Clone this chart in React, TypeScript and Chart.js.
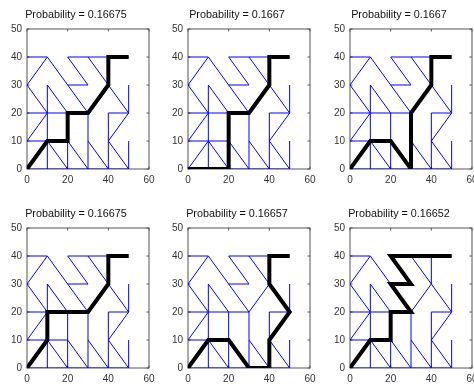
import React, { useEffect, useRef } from "react";
import { Chart, registerables } from "chart.js";

Chart.register(...registerables);

// ---- data ----
const xTicks = [0, 20, 40, 60];
const yTicks = [0, 10, 20, 30, 40, 50];

const titles = [
  "Probability = 0.16675",
  "Probability = 0.1667",
  "Probability = 0.1667",
  "Probability = 0.16675",
  "Probability = 0.16657",
  "Probability = 0.16652",
];

// graph edges: [x1, y1, x2, y2]
const horizontalEdges = [
  [0, 0, 10, 0], [10, 0, 20, 0], [20, 0, 30, 0], [30, 0, 40, 0], [40, 0, 50, 0],
  [0, 10, 10, 10], [10, 10, 20, 10],
  [0, 20, 10, 20], [10, 20, 20, 20], [20, 20, 30, 20], [40, 20, 50, 20],
  [20, 30, 30, 30],
  [0, 40, 10, 40], [20, 40, 30, 40], [30, 40, 40, 40], [40, 40, 50, 40],
];
const verticalEdges = [
  [10, 0, 10, 10], [10, 10, 10, 20], [10, 20, 10, 30],
  [20, 0, 20, 10], [20, 10, 20, 20],
  [30, 0, 30, 10], [30, 10, 30, 20],
  [40, 0, 40, 10], [40, 10, 40, 20], [40, 30, 40, 40],
  [50, 0, 50, 10], [50, 20, 50, 30],
];
const diagonalEdges = [
  [0, 0, 10, 10], [10, 10, 20, 0], [20, 10, 30, 0], [30, 10, 40, 0], [40, 10, 50, 0],
  [0, 10, 10, 20], [0, 30, 10, 20], [0, 30, 10, 40],
  [10, 40, 20, 30], [20, 30, 30, 20], [10, 30, 20, 20],
  [20, 40, 30, 30], [30, 40, 40, 30], [40, 30, 50, 20],
  [30, 20, 40, 30], [40, 10, 50, 20],
];

// highlighted paths (node sequences)
const path1 = [[0, 0], [10, 10], [20, 10], [20, 20], [30, 20], [40, 30], [40, 40], [50, 40]];
const path2 = [[0, 0], [10, 0], [20, 0], [20, 10], [20, 20], [30, 20], [40, 30], [40, 40], [50, 40]];
const path3 = [[0, 0], [10, 10], [20, 10], [30, 0], [30, 10], [30, 20], [40, 30], [40, 40], [50, 40]];
const path4 = [[0, 0], [10, 10], [10, 20], [20, 20], [30, 20], [40, 30], [40, 40], [50, 40]];
const path5 = [[0, 0], [10, 10], [20, 10], [30, 0], [40, 0], [40, 10], [50, 20], [40, 30], [40, 40], [50, 40]];
const path6 = [[0, 0], [10, 10], [20, 10], [20, 20], [30, 20], [20, 30], [30, 30], [20, 40], [30, 40], [40, 40], [50, 40]];
const paths = [path1, path2, path3, path4, path5, path6];

// ---- layout ----
const COL_LEFT = [27, 188, 350];
const ROW_TOP = [29, 228];
const BOX_W = 122;
const BOX_H = 140;
const PAD_LEFT = 2;
const Y_AXIS_W = 24;
const PAD_RIGHT = 10;
const TOP_SPACE = 29;
const X_AXIS_H = 20;
const CANVAS_W = PAD_LEFT + Y_AXIS_W + BOX_W + PAD_RIGHT;
const CANVAS_H = TOP_SPACE + BOX_H + X_AXIS_H;

const FONT = "Arial, 'Liberation Sans', Helvetica, sans-serif";

const boxPlugin = {
  id: "matlabBox",
  beforeDatasetsDraw(chart: any) {
    const { ctx, chartArea: a, scales } = chart;
    ctx.save();
    ctx.strokeStyle = "#555";
    ctx.lineWidth = 1;
    ctx.strokeRect(a.left, a.top, a.right - a.left, a.bottom - a.top);
    const tl = 2.5;
    ctx.beginPath();
    xTicks.forEach((v) => {
      const px = scales.x.getPixelForValue(v);
      ctx.moveTo(px, a.bottom);
      ctx.lineTo(px, a.bottom - tl);
      ctx.moveTo(px, a.top);
      ctx.lineTo(px, a.top + tl);
    });
    yTicks.forEach((v) => {
      const py = scales.y.getPixelForValue(v);
      ctx.moveTo(a.left, py);
      ctx.lineTo(a.left + tl, py);
      ctx.moveTo(a.right, py);
      ctx.lineTo(a.right - tl, py);
    });
    ctx.stroke();
    ctx.restore();
  },
};

function Panel({ idx }: { idx: number }) {
  const ref = useRef<HTMLCanvasElement>(null);
  useEffect(() => {
    const edgeData: any[] = [];
    [...horizontalEdges, ...verticalEdges, ...diagonalEdges].forEach(([x1, y1, x2, y2]) => {
      edgeData.push({ x: x1, y: y1 }, { x: x2, y: y2 }, { x: x2, y: null });
    });
    const pathData = paths[idx].map(([x, y]) => ({ x, y }));
    const tickFont = { family: FONT, size: 10 };
    const chart = new Chart(ref.current as HTMLCanvasElement, {
      type: "scatter",
      data: {
        datasets: [
          {
            data: pathData,
            showLine: true,
            borderColor: "#000000",
            borderWidth: 4,
            pointRadius: 0,
            spanGaps: false,
            borderJoinStyle: "miter",
          },
          {
            data: edgeData,
            showLine: true,
            borderColor: "#0000ff",
            borderWidth: 1,
            pointRadius: 0,
            spanGaps: false,
          },
        ],
      } as any,
      options: {
        animation: false,
        responsive: false,
        maintainAspectRatio: false,
        events: [],
        layout: { padding: { left: PAD_LEFT, right: PAD_RIGHT, top: 0, bottom: 0 } },
        plugins: {
          legend: { display: false },
          tooltip: { enabled: false },
          title: {
            display: true,
            text: titles[idx],
            color: "#111",
            font: { family: FONT, size: 10.8, weight: "normal", lineHeight: 1.2 },
            padding: { top: 8.5, bottom: 7.54 },
          },
        },
        scales: {
          x: {
            type: "linear",
            min: 0,
            max: 60,
            afterBuildTicks: (s: any) => {
              s.ticks = xTicks.map((v) => ({ value: v }));
            },
            afterFit: (s: any) => {
              s.height = X_AXIS_H;
              s.paddingLeft = 0;
              s.paddingRight = 0;
            },
            grid: { display: false, drawTicks: false },
            border: { display: false },
            ticks: { padding: 5, color: "#333", font: tickFont, maxRotation: 0 },
          },
          y: {
            type: "linear",
            min: 0,
            max: 50,
            afterBuildTicks: (s: any) => {
              s.ticks = yTicks.map((v) => ({ value: v }));
            },
            afterFit: (s: any) => {
              s.width = Y_AXIS_W;
              s.paddingTop = 0;
              s.paddingBottom = 0;
            },
            grid: { display: false, drawTicks: false },
            border: { display: false },
            ticks: { padding: 5, color: "#333", font: tickFont },
          },
        },
      } as any,
      plugins: [boxPlugin],
    });
    return () => chart.destroy();
  }, [idx]);

  const col = idx % 3;
  const row = Math.floor(idx / 3);
  const left = COL_LEFT[col] - PAD_LEFT - Y_AXIS_W;
  const top = ROW_TOP[row] - TOP_SPACE;
  return (
    <canvas
      ref={ref}
      width={CANVAS_W}
      height={CANVAS_H}
      style={{ position: "absolute", left, top, width: CANVAS_W, height: CANVAS_H }}
    />
  );
}

export default function App() {
  return (
    <div
      style={{
        position: "absolute",
        left: 0,
        top: 0,
        width: 474,
        height: 385,
        overflow: "hidden",
        background: "#ffffff",
      }}
    >
      {titles.map((_, i) => (
        <Panel key={i} idx={i} />
      ))}
    </div>
  );
}
